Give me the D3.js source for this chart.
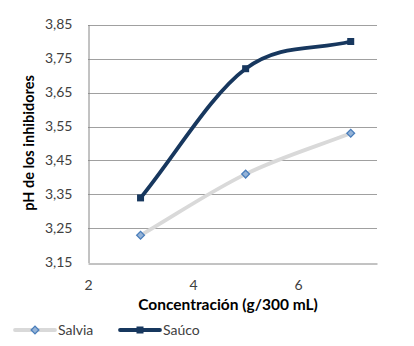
<!DOCTYPE html>
<html>
<head>
<meta charset="utf-8">
<script src="https://cdn.jsdelivr.net/npm/d3@7"></script>
<style>
  html, body { margin: 0; padding: 0; background: #fff; }
  text { font-family: Lato, "Open Sans", sans-serif; }
</style>
</head>
<body>
<svg id="chart" width="414" height="346"></svg>
<script>
// Concentration (g/300 mL) and measured pH for each inhibitor
const concentrations = [3, 5, 7];
const salvia = [3.23, 3.41, 3.53];
const sauco = [3.34, 3.72, 3.80];
const yTicks = [3.15, 3.25, 3.35, 3.45, 3.55, 3.65, 3.75, 3.85];
const xTicks = [2, 4, 6];
const seriesNames = ["Salvia", "Saúco"];

const svg = d3.select("#chart");
const plot = { left: 88, right: 377, top: 24.5, bottom: 262.5 };

const x = d3.scaleLinear().domain([2, 7.5]).range([plot.left, plot.right]);
const y = d3.scaleLinear().domain([3.15, 3.85]).range([plot.bottom, plot.top]);

const fmt = d => d3.format(".2f")(d).replace(".", ",");

// Smoothed line: Bezier segments whose interior tangents follow the
// neighbouring points and whose end tangents follow the end chord.
function SmoothCurve(context) { this._context = context; }
SmoothCurve.prototype = {
  areaStart() { this._line = 0; },
  areaEnd() { this._line = NaN; },
  lineStart() { this._pts = []; },
  point(px, py) { this._pts.push([+px, +py]); },
  lineEnd() {
    const p = this._pts, n = p.length, c = this._context;
    if (!n) return;
    c.moveTo(p[0][0], p[0][1]);
    const tangent = i => {
      if (i === 0) return [p[1][0] - p[0][0], p[1][1] - p[0][1]];
      if (i === n - 1) return [p[n - 1][0] - p[n - 2][0], p[n - 1][1] - p[n - 2][1]];
      return [(p[i + 1][0] - p[i - 1][0]) / 2, (p[i + 1][1] - p[i - 1][1]) / 2];
    };
    for (let i = 0; i < n - 1; i++) {
      const t0 = tangent(i), t1 = tangent(i + 1);
      c.bezierCurveTo(
        p[i][0] + t0[0] / 3, p[i][1] + t0[1] / 3,
        p[i + 1][0] - t1[0] / 3, p[i + 1][1] - t1[1] / 3,
        p[i + 1][0], p[i + 1][1]);
    }
  }
};
const smooth = context => new SmoothCurve(context);

// horizontal gridlines
svg.append("g")
  .selectAll("line")
  .data(yTicks.slice(1))
  .join("line")
  .attr("x1", plot.left).attr("x2", plot.right)
  .attr("y1", d => Math.round(y(d)) + 0.5).attr("y2", d => Math.round(y(d)) + 0.5)
  .attr("stroke", "#a0a0a0").attr("stroke-width", 1);

// y axis
const yAxis = svg.append("g")
  .attr("transform", `translate(${plot.left + 0.5},0)`)
  .call(d3.axisLeft(y).tickValues(yTicks).tickFormat(fmt).tickSize(0).tickPadding(16));
yAxis.select(".domain").attr("stroke", "#868686");
yAxis.selectAll("text").attr("font-size", 14).attr("fill", "#404040");

// x axis
const xAxis = svg.append("g")
  .attr("transform", `translate(0,${Math.round(plot.bottom) + 0.5})`)
  .call(d3.axisBottom(x).tickValues(xTicks).tickFormat(d3.format("d")).tickSize(0).tickPadding(17));
xAxis.select(".domain").attr("stroke", "#868686");
xAxis.selectAll("text").attr("font-size", 14).attr("fill", "#404040");

// axis titles
svg.append("text")
  .attr("x", 228).attr("y", 310)
  .attr("text-anchor", "middle")
  .attr("font-size", 15.5).attr("font-weight", "bold").attr("fill", "#000")
  .text("Concentración (g/300 mL)");

svg.append("text")
  .attr("transform", `translate(34,143) rotate(-90)`)
  .attr("text-anchor", "middle")
  .attr("font-size", 14.5).attr("font-weight", "bold").attr("fill", "#000")
  .text("pH de los inhibidores");

const line = d3.line().curve(smooth)
  .x((d, i) => x(concentrations[i])).y(d => y(d));

const diamond = d3.symbol().type(d3.symbolSquare).size(30);

// Salvia series
svg.append("path").datum(salvia)
  .attr("d", line).attr("fill", "none")
  .attr("stroke", "#d9d9d9").attr("stroke-width", 3.8).attr("stroke-linecap", "round");
svg.append("g").selectAll("path")
  .data(salvia).join("path")
  .attr("transform", (d, i) => `translate(${x(concentrations[i])},${y(d)}) rotate(45)`)
  .attr("d", diamond)
  .attr("fill", "#95b3d7").attr("stroke", "#4a7ebb").attr("stroke-width", 1.3);

// Saúco series
svg.append("path").datum(sauco)
  .attr("d", line).attr("fill", "none")
  .attr("stroke", "#17375e").attr("stroke-width", 3.8).attr("stroke-linecap", "round");
svg.append("g").selectAll("rect")
  .data(sauco).join("rect")
  .attr("x", (d, i) => x(concentrations[i]) - 3.5).attr("y", d => y(d) - 3.5)
  .attr("width", 7).attr("height", 7)
  .attr("fill", "#17375e");

// legend
const legend = svg.append("g");
const lg = [
  { x: 15, name: seriesNames[0], stroke: "#d9d9d9" },
  { x: 120, name: seriesNames[1], stroke: "#17375e" }
];
lg.forEach((d, i) => {
  const g = legend.append("g").attr("transform", `translate(${d.x},330)`);
  g.append("line").attr("x1", 0).attr("x2", 40).attr("y1", 0).attr("y2", 0)
    .attr("stroke", d.stroke).attr("stroke-width", 3.8).attr("stroke-linecap", "round");
  if (i === 0) {
    g.append("path").attr("transform", "translate(20,0) rotate(45)").attr("d", diamond)
      .attr("fill", "#95b3d7").attr("stroke", "#4a7ebb").attr("stroke-width", 1.3);
  } else {
    g.append("rect").attr("x", 16.5).attr("y", -3.5).attr("width", 7).attr("height", 7)
      .attr("fill", "#17375e");
  }
  g.append("text").attr("x", 43).attr("y", 5)
    .attr("font-size", 14).attr("fill", "#404040").text(d.name);
});
</script>
</body>
</html>
